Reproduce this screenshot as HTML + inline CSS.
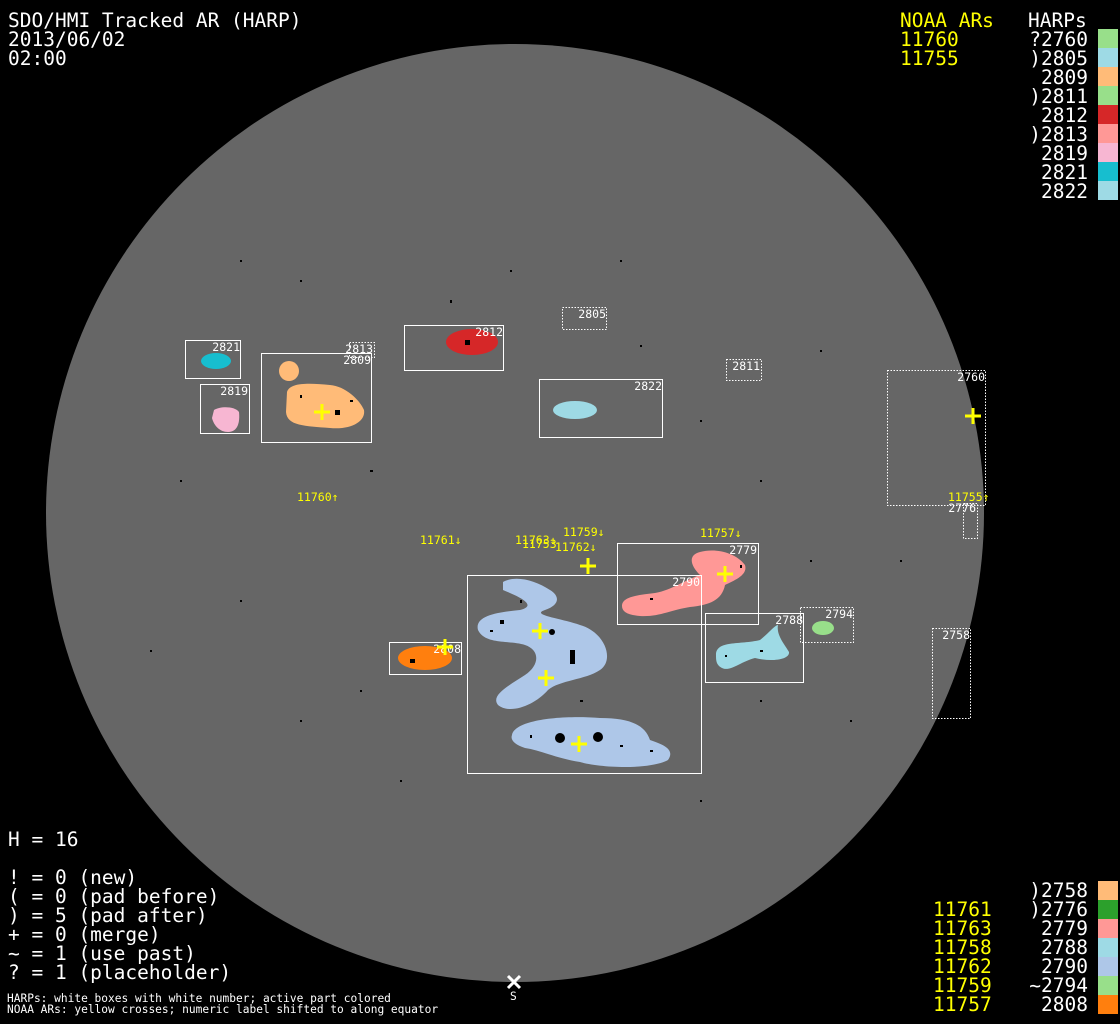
<!DOCTYPE html>
<html><head><meta charset="utf-8"><style>
html,body{margin:0;padding:0;background:#000;}
svg{display:block;}
.t{font-family:"DejaVu Sans Mono","Liberation Mono",monospace;font-size:19.5px;}
.s{font-family:"DejaVu Sans Mono","Liberation Mono",monospace;font-size:11.5px;}
.f{font-family:"DejaVu Sans Mono","Liberation Mono",monospace;font-size:11.2px;}
</style></head><body>
<svg width="1120" height="1024" viewBox="0 0 1120 1024" xmlns="http://www.w3.org/2000/svg">
<rect width="1120" height="1024" fill="#000"/>
<circle cx="515" cy="513" r="469" fill="#666"/>
<!-- speckles -->
<g fill="#000">
<rect x="300" y="280" width="2" height="2"/><rect x="450" y="300" width="2" height="3"/><rect x="640" y="345" width="2" height="2"/>
<rect x="700" y="420" width="2" height="2"/><rect x="370" y="470" width="3" height="2"/><rect x="180" y="480" width="2" height="2"/>
<rect x="760" y="480" width="2" height="2"/><rect x="820" y="350" width="2" height="2"/><rect x="900" y="560" width="2" height="2"/>
<rect x="150" y="650" width="2" height="2"/><rect x="240" y="600" width="2" height="2"/><rect x="850" y="720" width="2" height="2"/>
<rect x="400" y="780" width="2" height="2"/><rect x="700" y="800" width="2" height="2"/><rect x="300" y="720" width="2" height="2"/>
<rect x="620" y="260" width="2" height="2"/><rect x="510" y="270" width="2" height="2"/><rect x="240" y="260" width="2" height="2"/>
<rect x="760" y="700" width="2" height="2"/><rect x="360" y="690" width="2" height="2"/><rect x="810" y="560" width="2" height="2"/>
</g>
<!-- blobs -->
<ellipse cx="216" cy="361" rx="15" ry="8" fill="#17becf"/>
<path d="M214,410 C220,406 235,406 239,412 C240,422 238,432 228,432 C220,432 214,426 212,418Z" fill="#f7b6d2"/>
<ellipse cx="289" cy="371" rx="10" ry="10" fill="#ffbb78"/>
<path d="M287,392 C290,382 310,383 330,385 C345,386 360,400 364,410 C366,422 350,430 330,428 C305,426 287,426 286,412Z" fill="#ffbb78"/>
<ellipse cx="472" cy="342" rx="26" ry="13" fill="#d62728"/>
<ellipse cx="575" cy="410" rx="22" ry="9" fill="#9edae5"/>
<path d="M622,606 C622,596 640,595 655,593 C672,590 685,580 700,575 C690,565 688,555 700,552 C715,548 735,552 745,565 C748,575 735,580 725,585 C722,600 710,605 690,607 C670,610 660,617 640,616 C628,615 622,612 622,606Z" fill="#ff9896"/>
<path d="M503,582 C515,575 535,580 550,590 C560,596 560,605 545,610 C530,615 560,618 580,625 C605,632 615,660 600,670 C585,680 560,680 548,690 C535,705 510,715 498,705 C490,695 510,685 525,675 C540,665 540,650 525,645 C510,640 485,645 478,630 C474,615 500,612 520,610 C540,605 515,595 503,590Z" fill="#aec7e8"/>
<path d="M512,735 C515,720 560,715 600,718 C630,718 645,725 650,740 C665,745 675,750 668,760 C650,770 600,768 580,762 C555,758 540,750 525,748 C515,745 510,740 512,735Z" fill="#aec7e8"/>
<path d="M716,655 C716,640 740,645 760,640 C770,632 775,625 778,625 C776,635 785,645 789,652 C790,660 770,662 755,658 C740,662 730,672 722,668 C716,665 716,660 716,655Z" fill="#9edae5"/>
<ellipse cx="823" cy="628" rx="11" ry="7" fill="#98df8a"/>
<ellipse cx="425" cy="658" rx="27" ry="12" fill="#ff7f0e"/>
<g fill="#000">
<circle cx="560" cy="738" r="5"/><circle cx="598" cy="737" r="5"/><circle cx="552" cy="632" r="3"/>
<rect x="570" y="650" width="5" height="14"/><rect x="500" y="620" width="4" height="4"/><rect x="410" y="659" width="5" height="4"/>
<rect x="465" y="340" width="5" height="5"/><rect x="335" y="410" width="5" height="5"/>
<rect x="490" y="630" width="3" height="2"/><rect x="520" y="600" width="2" height="3"/><rect x="580" y="700" width="3" height="2"/>
<rect x="620" y="745" width="3" height="2"/><rect x="530" y="735" width="2" height="3"/><rect x="650" y="750" width="3" height="2"/>
<rect x="740" y="565" width="2" height="3"/><rect x="650" y="598" width="3" height="2"/><rect x="300" y="395" width="2" height="3"/>
<rect x="350" y="400" width="3" height="2"/><rect x="760" y="650" width="3" height="2"/><rect x="725" y="655" width="2" height="2"/>
</g>
<!-- boxes -->
<g fill="none" stroke="#fff" stroke-width="1">
<rect x="185.5" y="340.5" width="55" height="38"/>
<rect x="200.5" y="384.5" width="49" height="49"/>
<rect x="261.5" y="353.5" width="110" height="89"/>
<rect x="404.5" y="325.5" width="99" height="45"/>
<rect x="539.5" y="379.5" width="123" height="58"/>
<rect x="467.5" y="575.5" width="234" height="198"/>
<rect x="617.5" y="543.5" width="141" height="81"/>
<rect x="705.5" y="613.5" width="98" height="69"/>
<rect x="389.5" y="642.5" width="72" height="32"/>
</g>
<g fill="none" stroke="#fff" stroke-width="1" stroke-dasharray="1.5,1.5">
<rect x="349.5" y="342.5" width="25" height="15"/>
<rect x="562.5" y="307.5" width="44" height="22"/>
<rect x="726.5" y="359.5" width="35" height="21"/>
<rect x="887.5" y="370.5" width="98" height="135"/>
<rect x="963.5" y="503.5" width="14" height="35"/>
<rect x="932.5" y="628.5" width="38" height="90"/>
<rect x="800.5" y="607.5" width="53" height="35"/>
</g>
<g fill="#fff" class="s" text-anchor="end">
<text x="240" y="351">2821</text><text x="248" y="395">2819</text>
<text x="373" y="353">2813</text><text x="371" y="364">2809</text>
<text x="503" y="336">2812</text><text x="606" y="318">2805</text>
<text x="662" y="390">2822</text><text x="760" y="370">2811</text>
<text x="985" y="381">2760</text><text x="976" y="512">2776</text>
<text x="970" y="639">2758</text><text x="757" y="554">2779</text>
<text x="700" y="586">2790</text><text x="803" y="624">2788</text>
<text x="853" y="618">2794</text><text x="461" y="653">2808</text>
</g>
<!-- crosses -->
<g stroke="#ff0" stroke-width="3">
<path d="M314,412h16M322,404v16"/><path d="M965,416h16M973,408v16"/>
<path d="M580,566h16M588,558v16"/><path d="M717,574h16M725,566v16"/>
<path d="M532,631h16M540,623v16"/><path d="M538,678h16M546,670v16"/>
<path d="M571,744h16M579,736v16"/><path d="M437,647h16M445,639v16"/>
</g>
<g fill="#ff0" class="s">
<text x="297" y="501">11760↑</text><text x="420" y="544">11761↓</text>
<text x="522" y="548">11753</text><text x="515" y="544">11763↓</text>
<text x="563" y="536">11759↓</text><text x="555" y="551">11762↓</text>
<text x="700" y="537">11757↓</text><text x="948" y="501">11755↑</text>
</g>
<!-- S marker -->
<path d="M508,976l12,12M520,976l-12,12" stroke="#fff" stroke-width="3"/>
<text x="510" y="1000" fill="#fff" class="f">S</text>
<!-- header -->
<g fill="#fff" class="t">
<text x="8" y="27">SDO/HMI Tracked AR (HARP)</text>
<text x="8" y="46">2013/06/02</text>
<text x="8" y="65">02:00</text>
<text x="1028" y="27">HARPs</text>
</g>
<g fill="#ff0" class="t">
<text x="900" y="27">NOAA ARs</text><text x="900" y="46">11760</text><text x="900" y="65">11755</text>
</g>
<g fill="#fff" class="t" text-anchor="end">
<text x="1088" y="46">?2760</text><text x="1088" y="65">)2805</text><text x="1088" y="84">2809</text>
<text x="1088" y="103">)2811</text><text x="1088" y="122">2812</text><text x="1088" y="141">)2813</text>
<text x="1088" y="160">2819</text><text x="1088" y="179">2821</text><text x="1088" y="198">2822</text>
<text x="1088" y="897">)2758</text><text x="1088" y="916">)2776</text><text x="1088" y="935">2779</text>
<text x="1088" y="954">2788</text><text x="1088" y="973">2790</text><text x="1088" y="992">~2794</text>
<text x="1088" y="1011">2808</text>
</g>
<g fill="#ff0" class="t">
<text x="933" y="916">11761</text><text x="933" y="935">11763</text><text x="933" y="954">11758</text>
<text x="933" y="973">11762</text><text x="933" y="992">11759</text><text x="933" y="1011">11757</text>
</g>
<g>
<rect x="1098" y="29" width="20" height="19" fill="#98df8a"/><rect x="1098" y="48" width="20" height="19" fill="#9edae5"/>
<rect x="1098" y="67" width="20" height="19" fill="#ffbb78"/><rect x="1098" y="86" width="20" height="19" fill="#98df8a"/>
<rect x="1098" y="105" width="20" height="19" fill="#d62728"/><rect x="1098" y="124" width="20" height="19" fill="#ff9896"/>
<rect x="1098" y="143" width="20" height="19" fill="#f7b6d2"/><rect x="1098" y="162" width="20" height="19" fill="#17becf"/>
<rect x="1098" y="181" width="20" height="19" fill="#9edae5"/>
<rect x="1098" y="881" width="20" height="19" fill="#ffbb78"/><rect x="1098" y="900" width="20" height="19" fill="#2ca02c"/>
<rect x="1098" y="919" width="20" height="19" fill="#ff9896"/><rect x="1098" y="938" width="20" height="19" fill="#9edae5"/>
<rect x="1098" y="957" width="20" height="19" fill="#aec7e8"/><rect x="1098" y="976" width="20" height="19" fill="#98df8a"/>
<rect x="1098" y="995" width="20" height="19" fill="#ff7f0e"/>
</g>
<g fill="#fff" class="t">
<text x="8" y="846">H = 16</text>
<text x="8" y="884">! = 0 (new)</text>
<text x="8" y="903">( = 0 (pad before)</text>
<text x="8" y="922">) = 5 (pad after)</text>
<text x="8" y="941">+ = 0 (merge)</text>
<text x="8" y="960">~ = 1 (use past)</text>
<text x="8" y="979">? = 1 (placeholder)</text>
</g>
<g fill="#fff" class="f">
<text x="7" y="1002">HARPs: white boxes with white number; active part colored</text>
<text x="7" y="1013">NOAA ARs: yellow crosses; numeric label shifted to along equator</text>
</g>
</svg>
</body></html>
